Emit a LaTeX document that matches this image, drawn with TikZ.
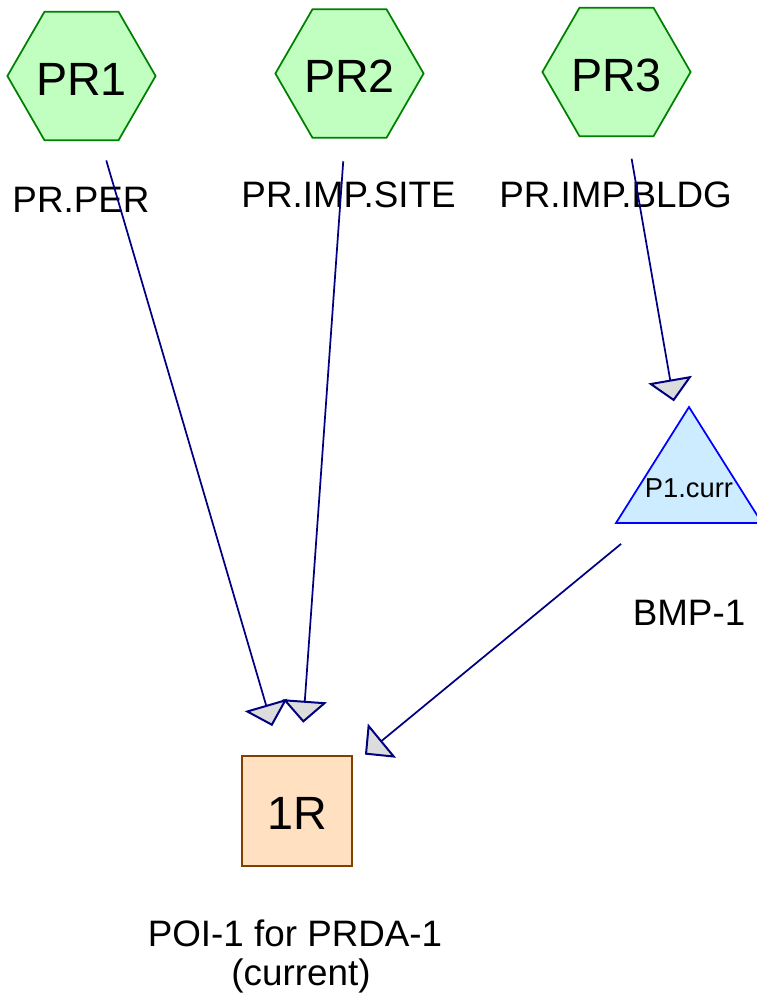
\documentclass[tikz,border=0pt]{standalone}
\usepackage{fontspec}
\setmainfont{Liberation Sans}
\usetikzlibrary{shapes.geometric,arrows.meta}
\definecolor{hexfill}{RGB}{192,255,192}
\definecolor{hexdraw}{RGB}{0,128,0}
\definecolor{trifill}{RGB}{205,236,255}
\definecolor{tridraw}{RGB}{0,0,255}
\definecolor{recfill}{RGB}{255,224,192}
\definecolor{recdraw}{RGB}{128,64,0}
\definecolor{edgecol}{RGB}{0,0,128}
\definecolor{tipfill}{RGB}{220,220,220}
\tikzset{
  bigtext/.style={font=\fontsize{35pt}{38pt}\selectfont, text height=29pt, text depth=0pt},
  hexnode/.style={regular polygon, regular polygon sides=6, minimum size=110.25pt,
    inner sep=0pt, fill=hexfill, draw=hexdraw, line width=1.3pt, bigtext},
  recnode/.style={rectangle, minimum size=82.5pt, inner sep=0pt, fill=recfill,
    draw=recdraw, line width=1.5pt, bigtext},
  lbl/.style={anchor=base, inner sep=0pt, font=\fontsize{27.6pt}{30pt}\selectfont},
  trilbl/.style={inner sep=0pt, font=\fontsize{20.5pt}{22pt}\selectfont},
  conn/.style={draw=edgecol, line width=1.3pt, shorten <=66pt, shorten >=66pt,
    -{Triangle[length=16.5pt, width=33pt, fill=tipfill, line width=1.5pt]}},
}
\begin{document}
\begin{tikzpicture}[x=0.75pt, y=-0.75pt]
\useasboundingbox (0,0) rectangle (757,997);
\begin{scope}
\clip (0,0) rectangle (757,997);
% shapes
\node[hexnode] (pr1) at (81.5,76) {PR1};
\node[hexnode] (pr2) at (349.5,73.5) {PR2};
\node[hexnode] (pr3) at (616.5,72) {PR3};
\coordinate (tapex) at (689,407);
\coordinate (tleft) at (616,523);
\coordinate (tright) at (762,523);
\draw[fill=trifill, draw=tridraw, line width=1.3pt] (tleft) -- (tapex) -- (tright) -- cycle;
\node[trilbl] (bmp) at (689,488) {P1.curr};
\node[recnode] (r1) at (297,810.5) {1R};
% labels
\node[lbl] (l1) at (81,212) {PR.PER};
\node[lbl] (l2) at (348.5,207) {PR.IMP.SITE};
\node[lbl] (l3) at (615.5,207) {PR.IMP.BLDG};
\node[lbl] (l4) at (689,625) {BMP-1};
\node[lbl] (l5) at (295,946) {POI-1 for PRDA-1};
\node[lbl] (l6) at (301,985) {(current)};
% connectors
\draw[conn] (pr1.center) -- (r1.center);
\draw[conn] (pr2.center) -- (r1.center);
\draw[conn] (pr3.center) -- (bmp.center);
\draw[conn] (bmp.center) -- (r1.center);
\end{scope}
\end{tikzpicture}
\end{document}
